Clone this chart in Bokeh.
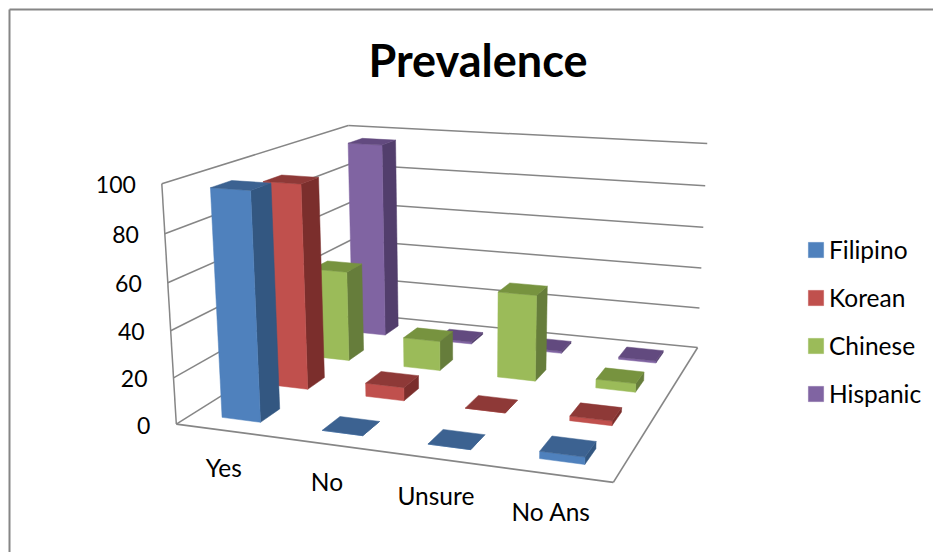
import numpy as np
from bokeh.core.properties import value
from bokeh.embed import file_html
from bokeh.models import Legend, LegendItem
from bokeh.plotting import figure
from bokeh.resources import INLINE

TITLE = "Prevalence"
categories = ["Yes", "No", "Unsure", "No Ans"]
series_names = ["Filipino", "Korean", "Chinese", "Hispanic"]
filipino = [97, 0, 0, 3]
korean = [92, 6, 0, 2]
chinese = [43, 14, 40, 4]
hispanic = [96, 1, 1, 1]
value_ticks = [0, 20, 40, 60, 80, 100]

series_values = [filipino, korean, chinese, hispanic]
front_colors = ["#4F81BD", "#C0504D", "#9BBB59", "#8064A2"]
top_colors = ["#3C6291", "#8E3937", "#77933F", "#624A7F"]
side_colors = ["#335781", "#7B2E2C", "#667D3B", "#523E6C"]
GRID = "#868686"
FONT = "Lato"

# Camera of the 3D box: box corners (category, series, value) and where they land on the page.
box_corners = np.array([
    (0, 0, 0), (0, 0, 100), (0, 4, 100), (0, 4, 0),
    (4, 0, 0), (4, 4, 0), (4, 4, 100),
], dtype=float)
page_corners = np.array([
    (175, 423.5), (162, 183.5), (347, 125), (353, 313),
    (613, 481.7), (696.7, 347.3), (707, 143),
], dtype=float)


def fit_camera(world, page):
    rows, rhs = [], []
    for (u, v, w), (x, y) in zip(world, page):
        rows.append([u, v, w, 1, 0, 0, 0, 0, -x * u, -x * v, -x * w])
        rhs.append(x)
        rows.append([0, 0, 0, 0, u, v, w, 1, -y * u, -y * v, -y * w])
        rhs.append(y)
    sol = np.linalg.lstsq(np.array(rows), np.array(rhs), rcond=None)[0]
    return np.append(sol, 1.0).reshape(3, 4)


CAMERA = fit_camera(box_corners, page_corners)


def project(u, v, w):
    hx, hy, hz = CAMERA @ np.array([u, v, w, 1.0])
    return hx / hz, hy / hz


def face(points):
    xy = [project(*pt) for pt in points]
    return [pt[0] for pt in xy], [pt[1] for pt in xy]


p = figure(width=933, height=552, x_range=(0, 933), y_range=(552, 0),
           output_backend="svg", toolbar_location=None, min_border=0,
           outline_line_color=None, background_fill_color="white",
           border_fill_color="white")
p.axis.visible = False
p.grid.visible = False

# Chart-area border, open towards the bottom of the page
p.line([9, 9], [9, 552], line_color=GRID, line_width=2)
p.line([9, 933], [9, 9], line_color=GRID, line_width=2)


def seg(a, b, width=1.5):
    (x0, y0), (x1, y1) = project(*a), project(*b)
    p.line([x0, x1], [y0, y1], line_color=GRID, line_width=width)


# Walls and floor
for tick in value_ticks:
    seg((0, 0, tick), (0, 4, tick))
    seg((0, 4, tick), (4, 4, tick))
seg((0, 0, 0), (0, 0, 100))
seg((0, 0, 0), (4, 0, 0), 1.7)
seg((4, 0, 0), (4, 4, 0), 1.7)

# Bars, back row first so that nearer rows paint over them
BAR_START, BAR_END = 0.3, 0.69
legend_items = []
for s in reversed(range(len(series_names))):
    fronts, sides, tops = ([], []), ([], []), ([], [])
    v0, v1 = s + BAR_START, s + BAR_END
    for c, val in enumerate(series_values[s]):
        u0, u1 = c + BAR_START, c + BAR_END
        for store, pts in (
            (fronts, [(u0, v0, 0), (u1, v0, 0), (u1, v0, val), (u0, v0, val)]),
            (sides, [(u1, v0, 0), (u1, v1, 0), (u1, v1, val), (u1, v0, val)]),
            (tops, [(u0, v0, val), (u1, v0, val), (u1, v1, val), (u0, v1, val)]),
        ):
            xs, ys = face(pts)
            store[0].append(xs)
            store[1].append(ys)
    p.patches(sides[0], sides[1], fill_color=side_colors[s], line_color=side_colors[s], line_width=0.5)
    front = p.patches(fronts[0], fronts[1], fill_color=front_colors[s], line_color=front_colors[s], line_width=0.5)
    p.patches(tops[0], tops[1], fill_color=top_colors[s], line_color=top_colors[s], line_width=0.5)
    legend_items.insert(0, LegendItem(label=series_names[s], renderers=[front]))

# Value labels follow the front edge of the left wall
tick_xy = [project(0, 0, t) for t in value_ticks]
p.text([pt[0] - 26 for pt in tick_xy], [pt[1] + 1 for pt in tick_xy],
       text=[str(t) for t in value_ticks], text_align="right", text_baseline="middle",
       text_font=value(FONT), text_font_size="23px", text_color="#000000")

# Category labels hang below the front edge of the floor
cat_xy = [project(i + 0.5, 0, 0) for i in range(len(categories))]
p.text([pt[0] - 2 for pt in cat_xy], [pt[1] + 37 for pt in cat_xy],
       text=categories, text_align="center", text_baseline="middle",
       text_font=value(FONT), text_font_size="24.5px", text_color="#000000")

p.text([477.5], [59], text=[TITLE], text_align="center", text_baseline="middle",
       text_font=value(FONT), text_font_style="bold", text_font_size="45px", text_color="#000000")

legend = Legend(items=legend_items, location=(806, 144), orientation="vertical",
                glyph_width=19, glyph_height=19, spacing=19, label_standoff=4,
                label_text_font=FONT, label_text_font_size="24.5px", label_text_color="#000000",
                label_height=25, border_line_color=None, background_fill_alpha=0,
                margin=0, padding=8)
p.add_layout(legend, "center")

open("out.html", "w").write(file_html(p, INLINE))
